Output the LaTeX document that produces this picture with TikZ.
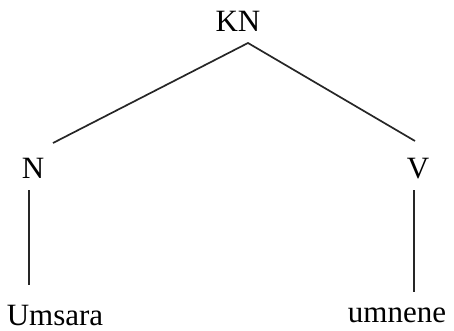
\documentclass[tikz,border=0pt]{standalone}
\usepackage{fontspec}
\setmainfont{Liberation Serif}
\begin{document}
\begin{tikzpicture}[x=1pt,y=-1pt,
  lab/.style={inner sep=0pt,anchor=base,font=\fontsize{31}{31}\selectfont},
  edge/.style={line width=1.7pt,black!85}]
\useasboundingbox (0,0) rectangle (454,331);
\node[lab] (KN) at (238,32) {KN};
\node[lab] (N) at (33,178) {N};
\node[lab] (V) at (418,178) {V};
\node[lab] (Um) at (55,325) {Umsara};
\node[lab] (um) at (397,322) {umnene};
\coordinate (apex) at (248,43);
\coordinate (nTop) at (53,143);
\coordinate (vTop) at (415,141);
\coordinate (nA) at (29,190);
\coordinate (nB) at (29,285);
\coordinate (vA) at (414,190);
\coordinate (vB) at (414,292);
\draw[edge] (nTop) -- (apex) -- (vTop);
\draw[edge] (nA) -- (nB);
\draw[edge] (vA) -- (vB);
\end{tikzpicture}
\end{document}
